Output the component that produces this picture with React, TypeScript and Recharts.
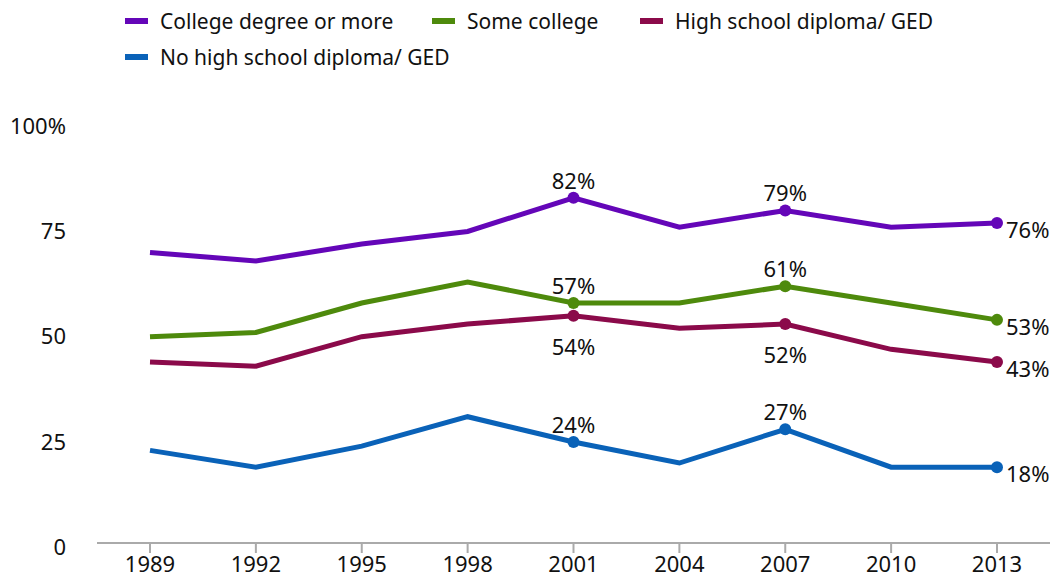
import React from 'react';
import { LineChart, Line, XAxis, YAxis, LabelList } from 'recharts';

const years = ['1989', '1992', '1995', '1998', '2001', '2004', '2007', '2010', '2013'];
const college = [69, 67, 71, 74, 82, 75, 79, 75, 76];
const someCollege = [49, 50, 57, 62, 57, 57, 61, 57, 53];
const highSchool = [43, 42, 49, 52, 54, 51, 52, 46, 43];
const noHighSchool = [22, 18, 23, 30, 24, 19, 27, 18, 18];
const yTicks = [0, 25, 50, 75, 100];
const labelled = [4, 6, 8];

const FONT = '"Noto Sans", sans-serif';

const series = [
  { key: 'college', name: 'College degree or more', color: '#6406b8', side: 'above' },
  { key: 'some', name: 'Some college', color: '#4e8a0c', side: 'above' },
  { key: 'hs', name: 'High school diploma/ GED', color: '#8b0a4a', side: 'below' },
  { key: 'nohs', name: 'No high school diploma/ GED', color: '#0a62b8', side: 'above' },
];

const data = years.map((y, i) => ({
  year: y,
  college: college[i],
  some: someCollege[i],
  hs: highSchool[i],
  nohs: noHighSchool[i],
}));

function makeLabel(side: string) {
  return (props: any) => {
    const { x, y, value, index } = props;
    if (!labelled.includes(index)) return null;
    let tx = x, ty = y, anchor: any = 'middle';
    if (index === years.length - 1) { tx = x + 9; ty = y + 6; anchor = 'start'; }
    else if (side === 'above') ty = y - 18;
    else ty = y + 30;
    return (
      <text x={tx} y={ty} textAnchor={anchor} dominantBaseline="central"
        fontFamily={FONT} fontSize={22} fill="#111">{value}%</text>
    );
  };
}

function makeDot(color: string) {
  return (props: any) => {
    const { cx, cy, index } = props;
    if (!labelled.includes(index)) return <g key={index} />;
    return <circle key={index} cx={cx} cy={cy} r={6} fill={color} />;
  };
}

function LegendBox() {
  const item = (s: any, left: number, top: number) => (
    <div key={s.key} style={{ position: 'absolute', left, top, display: 'flex', alignItems: 'center' }}>
      <div style={{ width: 23, height: 6, background: s.color, marginRight: 12 }} />
      <span style={{ fontFamily: FONT, fontSize: 21, color: '#111', whiteSpace: 'nowrap' }}>{s.name}</span>
    </div>
  );
  return (
    <div style={{ position: 'absolute', left: 0, top: 0 }}>
      {item(series[0], 125, 7)}
      {item(series[1], 432, 7)}
      {item(series[2], 640, 7)}
      {item(series[3], 125, 43)}
    </div>
  );
}

export default function App() {
  return (
    <div style={{ position: 'absolute', left: 0, top: 0, width: 1055, height: 583, background: '#fff' }}>
      <LineChart width={1055} height={583} data={data} margin={{ top: 122, right: 5, bottom: 0, left: 0 }}>
        <XAxis dataKey="year" padding={{ left: 53, right: 53 }} height={40}
          axisLine={{ stroke: '#aaa', strokeWidth: 2 }} tickLine={{ stroke: '#aaa', strokeWidth: 2 }}
          tickSize={10} tick={{ fontFamily: FONT, fontSize: 22, fill: '#111' }} tickMargin={3} />
        <YAxis domain={[0, 100]} ticks={yTicks} width={97} axisLine={false} tickLine={false}
          tickMargin={31} tickSize={0}
          tickFormatter={(v: number) => (v === 100 ? '100%' : String(v))}
          tick={{ fontFamily: FONT, fontSize: 22, fill: '#111', dy: 4 }} />
        {series.map((s) => (
          <Line key={s.key} type="linear" dataKey={s.key} name={s.name} stroke={s.color} strokeWidth={5}
            dot={makeDot(s.color)} activeDot={false} isAnimationActive={false}>
            <LabelList dataKey={s.key} content={makeLabel(s.side)} />
          </Line>
        ))}
      </LineChart>
      <LegendBox />
    </div>
  );
}
